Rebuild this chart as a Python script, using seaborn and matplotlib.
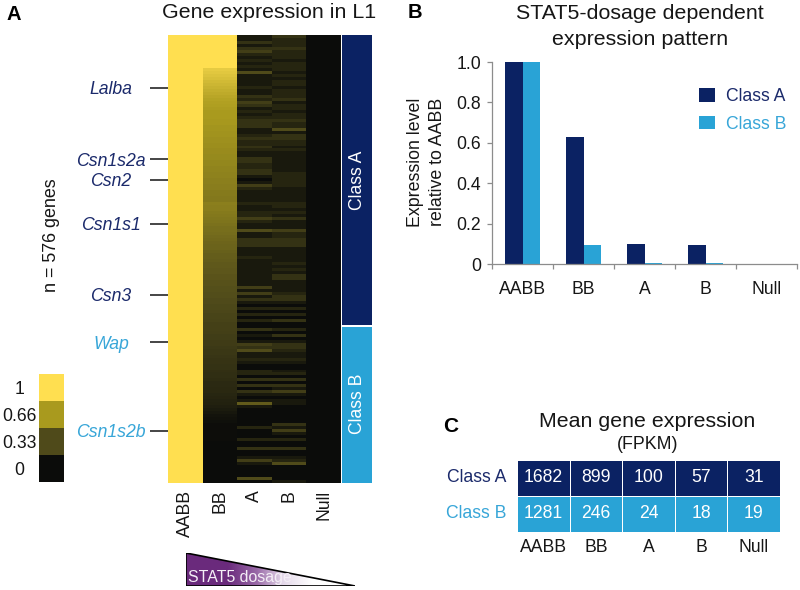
import matplotlib
matplotlib.use('Agg')
import matplotlib.pyplot as plt
from matplotlib.colors import LinearSegmentedColormap, ListedColormap
from matplotlib.patches import Polygon
import seaborn as sns
import pandas as pd

# panel A - values by row, top to bottom (about 3.8 genes per row)
stages = ['AABB', 'BB', 'A', 'B', 'Null']
col_bb = [100] * 11 + [90, 88, 86, 84, 82, 80, 78, 76, 74, 72, 70, 69, 68, 67, 66,
    66, 66, 65, 65, 64, 64, 63, 63, 62, 62, 61, 61, 60, 60, 59, 59, 58, 58, 57, 57, 56, 56, 55, 55, 54, 54, 53, 53, 52, 52,
    55, 54, 54, 53, 52, 51, 50, 49, 48, 48, 47, 46, 45, 44, 43, 43, 42, 41, 41, 40, 39, 39, 38,
    38, 37, 37, 36, 36, 35, 35, 34, 34, 33, 33, 32, 32, 31, 30, 30, 29, 28,
    28, 28, 27, 26, 26, 25, 25, 24, 23, 23, 22, 21, 21, 20, 20, 19, 18, 18, 17, 16, 16, 15,
    15, 14, 13, 12, 11, 10, 8, 6, 4, 3,
    2, 1, 1, 1, 1, 1, 1, 0, 0, 0, 0, 0, 0, 0, 0, 0, 0, 0, 0, 0, 0]
col_a = ('1131342121' '2151111211' '3243121233'
         '3112322321' '1332233101' '4211112112'
         '2421151133' '3111211111' '1111414131'
         '0202020030' '1014351121' '0022030303'
         '1016100000' '0200020030' '0141000050')
col_b = ('3222322212' '2212122122' '2312212232'
         '2513322121' '1111112222' '2111112212'
         '1311142233' '3111112121' '3311112331'
         '0202030020' '3013321121' '0012030314'
         '1011000000' '3141020030' '0125000001')

genes = ['Lalba', 'Csn1s2a', 'Csn2', 'Csn1s1', 'Csn3', 'Wap', 'Csn1s2b']
gene_rank = [68, 160, 186, 243, 334, 395, 509]
n_class_a = 373
n_class_b = 203
key_levels = [1, 0.66, 0.33, 0]

# panel B
class_names = ['Class A', 'Class B']
rel_a = [1.0, 0.63, 0.10, 0.095, 0.001]
rel_b = [1.0, 0.095, 0.004, 0.004, 0.001]

# panel C
fpkm_a = [1682, 899, 100, 57, 31]
fpkm_b = [1281, 246, 24, 18, 19]

NAVY = '#0b2263'
BLUE = '#29a3d6'
NAVY_TXT = '#1b2a6b'
BLUE_TXT = '#38a6d8'
TXT = '#161616'

W, H = 800, 590


def axes_px(fig, x0, y0, x1, y1):
    return fig.add_axes([x0 / W, 1 - y1 / H, (x1 - x0) / W, (y1 - y0) / H])


def label_px(fig, x, y, s, **kw):
    kw.setdefault('ha', 'center')
    kw.setdefault('va', 'center')
    kw.setdefault('color', TXT)
    fig.text(x / W, 1 - y / H, s, **kw)


def main():
    sns.set_style('white')
    plt.rcParams['font.family'] = ['Liberation Sans', 'DejaVu Sans']
    fig = plt.figure(figsize=(8, 5.9), dpi=100, facecolor='white')

    heat_cmap = LinearSegmentedColormap.from_list('heat', [
        (0, '#0b0c0a'), (0.33, '#4f4a1a'), (0.66, '#a99a1e'), (1, '#ffdf50')])

    # panel A
    rows = len(col_bb)
    df = pd.DataFrame({
        'AABB': [1.0] * rows,
        'BB': [v / 100 for v in col_bb],
        'A': [int(c) / 15 for c in col_a],
        'B': [int(c) / 15 for c in col_b],
        'Null': [0.0] * rows,
    })[stages]
    ax_gene = axes_px(fig, 168, 35, 341, 483)
    ax_gene.set_ylim(576, 0)
    ax_gene.set_xticks([])
    ax_gene.set_yticks(gene_rank, genes, fontsize=12.7, style='italic')
    ax_gene.tick_params(axis='y', length=13, width=1.2, pad=28, left=True)
    for i, lab in enumerate(ax_gene.get_yticklabels()):
        col = BLUE_TXT if gene_rank[i] > n_class_a else NAVY_TXT
        lab.set_color(col)
        lab.set_ha('center')
        ax_gene.yaxis.get_major_ticks()[i].tick1line.set_color(BLUE if gene_rank[i] > n_class_a else NAVY)
    sns.despine(ax=ax_gene, left=True, bottom=True)

    ax_heat = axes_px(fig, 168, 35, 341, 483)
    sns.heatmap(df, ax=ax_heat, cmap=heat_cmap, vmin=0, vmax=1, cbar=False, yticklabels=False)
    ax_heat.tick_params(axis='x', length=0, pad=5, labelsize=12.7, labelcolor=TXT)
    plt.setp(ax_heat.get_xticklabels(), rotation=90, ha='center', va='top')

    ax_class = axes_px(fig, 342, 35, 372, 483)
    ax_class.bar([0], [n_class_a], width=1, color=NAVY, linewidth=0)
    ax_class.bar([0], [n_class_b - 2], bottom=[n_class_a + 2], width=1, color=BLUE, linewidth=0)
    ax_class.set_xlim(-0.5, 0.5)
    ax_class.set_ylim(576, 0)
    ax_class.axis('off')
    ax_class.text(0, n_class_a / 2, class_names[0], rotation=90, color='white', fontsize=12.7, ha='center', va='center')
    ax_class.text(0, n_class_a + n_class_b / 2, class_names[1], rotation=90, color='white', fontsize=12.7, ha='center', va='center')

    ax_key = axes_px(fig, 39, 374, 64, 482)
    sns.heatmap(pd.DataFrame({'level': key_levels}), ax=ax_key, cmap=heat_cmap, vmin=0, vmax=1, cbar=False,
                xticklabels=False, yticklabels=[str(v) for v in key_levels])
    ax_key.tick_params(axis='y', length=0, pad=14, labelsize=12.7, labelcolor=TXT)
    plt.setp(ax_key.get_yticklabels(), rotation=0, ha='center', va='center_baseline')

    label_px(fig, 269, 18, 'Gene expression in L1', fontsize=15.4, va='baseline')
    label_px(fig, 52, 235, 'n = 576 genes', rotation=90, fontsize=12.9)
    label_px(fig, 14, 15, 'A', fontsize=14.5, fontweight='bold', color='black')

    # dosage wedge
    ax_wedge = axes_px(fig, 186, 553, 355, 586)
    wedge_cmap = LinearSegmentedColormap.from_list('wedge', [
        (0, '#6a2a7c'), (0.35, '#9a6aa8'), (0.65, '#e4d8ea'), (1, '#ffffff')])
    img = ax_wedge.imshow([[0, 1]], cmap=wedge_cmap, aspect='auto', interpolation='bilinear', extent=(0, 1, 0, 1))
    tri = Polygon([(0, 1), (0, 0), (1, 0)], closed=True, transform=ax_wedge.transData, facecolor='none', edgecolor='black', lw=1.2)
    ax_wedge.add_patch(tri)
    img.set_clip_path(tri)
    ax_wedge.axis('off')
    ax_wedge.text(0.012, 0.27, 'STAT5 dosage', color='#f4eef6', fontsize=11.4, ha='left', va='center')

    # panel B
    bars = pd.DataFrame({
        'stage': stages * 2,
        'level': rel_a + rel_b,
        'group': [class_names[0]] * 5 + [class_names[1]] * 5,
    })
    ax_bar = axes_px(fig, 492, 62, 797, 264)
    sns.barplot(data=bars, x='stage', y='level', hue='group', ax=ax_bar,
                palette=[NAVY, BLUE], width=0.57, gap=0, saturation=1, linewidth=0)
    ax_bar.set_xlim(-0.5, 4.5)
    ax_bar.set_ylim(0, 1)
    ax_bar.set_xlabel('')
    ax_bar.set_ylabel('')
    ax_bar.set_yticks([0, 0.2, 0.4, 0.6, 0.8, 1.0], ['0', '0.2', '0.4', '0.6', '0.8', '1.0'])
    ax_bar.set_xticks([-0.5, 0.5, 1.5, 2.5, 3.5, 4.5], minor=True)
    ax_bar.tick_params(axis='x', which='major', length=0, pad=12, labelsize=12.7, labelcolor=TXT, bottom=False)
    ax_bar.tick_params(axis='x', which='minor', length=3.5, width=0.9, color='#8c8c8c', bottom=True)
    ax_bar.tick_params(axis='y', length=3.5, width=0.9, color='#8c8c8c', pad=4.5, labelsize=12.7, labelcolor=TXT, left=True)
    sns.despine(ax=ax_bar)
    for side in ['left', 'bottom']:
        ax_bar.spines[side].set_color('#8c8c8c')
        ax_bar.spines[side].set_linewidth(0.9)
    leg = ax_bar.legend(frameon=False, loc='upper left', bbox_to_anchor=(0.679, 0.871), fontsize=12.7,
                        handlelength=0.9, handleheight=0.8, handletextpad=0.62, labelspacing=0.6,
                        borderpad=0, borderaxespad=0)
    for t, col in zip(leg.get_texts(), [NAVY_TXT, BLUE_TXT]):
        t.set_color(col)

    label_px(fig, 640, 19, 'STAT5-dosage dependent', fontsize=15.4, va='baseline')
    label_px(fig, 640, 45, 'expression pattern', fontsize=15.4, va='baseline')
    label_px(fig, 416, 162, 'Expression level', rotation=90, fontsize=12.8)
    label_px(fig, 438, 162, 'relative to AABB', rotation=90, fontsize=12.8)
    label_px(fig, 415, 13, 'B', fontsize=14.5, fontweight='bold', color='black')

    # panel C
    ax_tab = axes_px(fig, 517, 460, 780, 532)
    rows_c = pd.DataFrame([[0] * 5, [1] * 5], index=class_names, columns=stages)
    sns.heatmap(rows_c, ax=ax_tab, cmap=ListedColormap([NAVY, BLUE]), cbar=False,
                annot=pd.DataFrame([fpkm_a, fpkm_b]).values, fmt='d',
                annot_kws={'fontsize': 12.7, 'color': 'white'}, linewidths=0.4, linecolor='white')
    ax_tab.tick_params(axis='both', length=0, labelsize=12.7)
    ax_tab.tick_params(axis='x', pad=5, labelcolor=TXT)
    ax_tab.tick_params(axis='y', pad=8)
    plt.setp(ax_tab.get_yticklabels(), rotation=0)
    plt.setp(ax_tab.get_xticklabels(), rotation=0)
    for t, col in zip(ax_tab.get_yticklabels(), [NAVY_TXT, BLUE_TXT]):
        t.set_color(col)

    label_px(fig, 647.5, 427, 'Mean gene expression', fontsize=15.4, va='baseline')
    label_px(fig, 648, 449, '(FPKM)', fontsize=12.8, va='baseline')
    label_px(fig, 451, 427, 'C', fontsize=15, fontweight='bold', color='black')

    fig.savefig('out.png', dpi=100)


if __name__ == '__main__':
    main()
